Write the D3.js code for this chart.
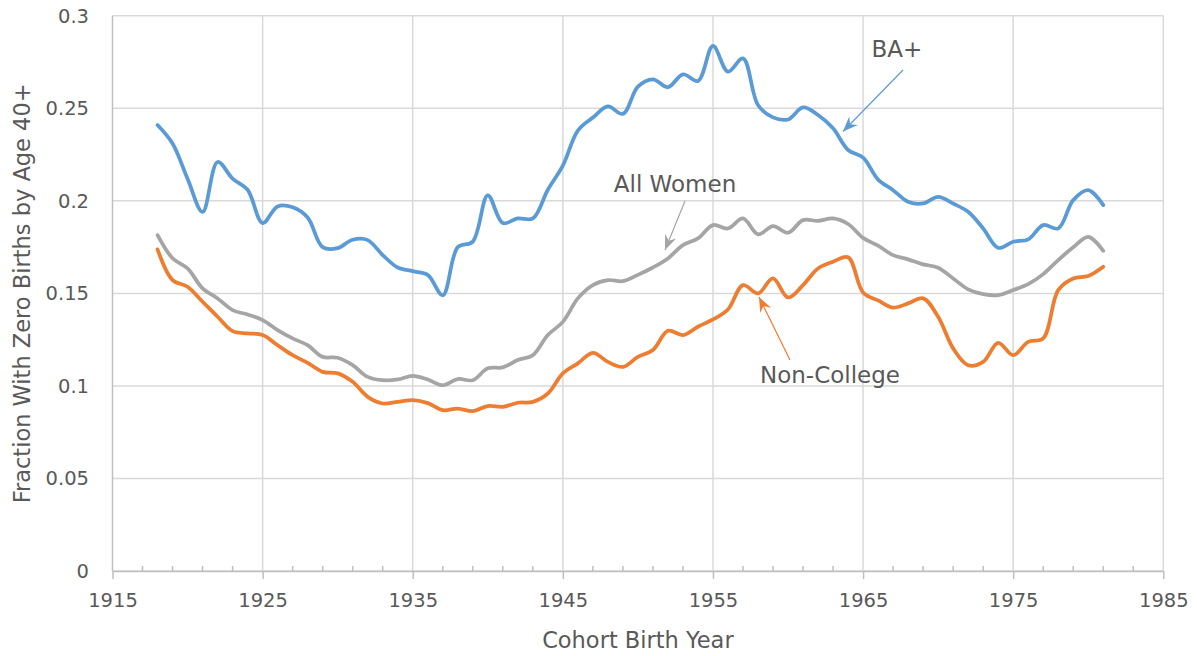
<!DOCTYPE html>
<html>
<head>
<meta charset="utf-8">
<script src="https://cdn.jsdelivr.net/npm/d3@7"></script>
<style>
  body { margin: 0; background: #fff; }
  text { font-family: "DejaVu Sans", sans-serif; fill: #595959; }
</style>
</head>
<body>
<script>

// cohort birth years
var years = [];
for (var yr = 1918; yr <= 1981; yr++) { years.push(yr); }

var baPlus = [
  0.241, 0.231, 0.212, 0.194, 0.221, 0.212, 0.206, 0.188, 0.197, 0.1965,
  0.191, 0.175, 0.1745, 0.179, 0.1788, 0.1707, 0.164, 0.162, 0.160, 0.149,
  0.175, 0.178, 0.203, 0.188, 0.1905, 0.1905, 0.206, 0.219, 0.238, 0.245,
  0.251, 0.247, 0.2617, 0.2657, 0.2614, 0.2684, 0.2648, 0.2837, 0.2698, 0.277,
  0.2518, 0.2451, 0.244, 0.2505, 0.2464, 0.2392, 0.2275, 0.2234, 0.2115, 0.2058,
  0.1995, 0.1986, 0.2022, 0.1986, 0.1941, 0.1851, 0.1746, 0.1779, 0.1792, 0.1869,
  0.1851, 0.2004, 0.2058, 0.1977
];

var allWomen = [
  0.1815, 0.169, 0.1635, 0.1527, 0.1473, 0.141, 0.1386, 0.1356, 0.1302, 0.1257,
  0.122, 0.1157, 0.1152, 0.1112, 0.1049, 0.1031, 0.1035, 0.1055, 0.1035, 0.1004,
  0.1037, 0.1031, 0.1095, 0.11, 0.114, 0.1166, 0.1275, 0.1346, 0.1473, 0.1545,
  0.1572, 0.1566, 0.160, 0.164, 0.1689, 0.1761, 0.1797, 0.1869, 0.1851, 0.1905,
  0.1819, 0.1864, 0.1828, 0.1896, 0.1892, 0.1905, 0.1875, 0.1800, 0.1758, 0.1707,
  0.1684, 0.1657, 0.1639, 0.1581, 0.1522, 0.1496, 0.1491, 0.1518, 0.155, 0.1604,
  0.168, 0.1749, 0.1806, 0.173
];

var nonCollege = [
  0.1738, 0.1572, 0.1536, 0.1455, 0.1374, 0.1296, 0.1284, 0.1275, 0.122, 0.1166,
  0.1125, 0.1076, 0.1068, 0.1022, 0.0941, 0.0905, 0.0914, 0.0923, 0.0907, 0.0869,
  0.0878, 0.0864, 0.0891, 0.0887, 0.0909, 0.0914, 0.0959, 0.1068, 0.1122, 0.1179,
  0.113, 0.1103, 0.1157, 0.1194, 0.1298, 0.1275, 0.132, 0.1359, 0.1413, 0.1545,
  0.150, 0.1581, 0.1478, 0.1545, 0.1635, 0.1671, 0.1695, 0.1505, 0.1462, 0.1423,
  0.1446, 0.1473, 0.1374, 0.1203, 0.1112, 0.113, 0.1233, 0.1166, 0.1238, 0.1257,
  0.1518, 0.1581, 0.1594, 0.1644
];

var xTicks = [1915, 1925, 1935, 1945, 1955, 1965, 1975, 1985];
var xMinorTicks = [];
for (var m = 1917; m < 1985; m += 2) { if ((m - 1915) % 10 != 0) xMinorTicks.push(m); }
var yTicks = [0, 0.05, 0.1, 0.15, 0.2, 0.25, 0.3];

var width = 1197, height = 656;

var svg = d3.select('body')
  .append('svg')
  .attr('width', width)
  .attr('height', height);

var x = d3.scaleLinear().domain([1915, 1985]).range([112.5, 1163.3]);
var y = d3.scaleLinear().domain([0, 0.3]).range([571, 15.8]);

//gridlines
svg.append('g')
  .selectAll('line')
  .data(yTicks)
  .enter()
  .append('line')
  .attr('x1', x(1915)).attr('x2', x(1985))
  .attr('y1', function(d){ return y(d); })
  .attr('y2', function(d){ return y(d); })
  .style('stroke', '#d9d9d9')
  .style('stroke-width', 1.5);

svg.append('g')
  .selectAll('line')
  .data(xTicks.slice(1))
  .enter()
  .append('line')
  .attr('x1', function(d){ return x(d); })
  .attr('x2', function(d){ return x(d); })
  .attr('y1', y(0.3)).attr('y2', y(0))
  .style('stroke', '#d9d9d9')
  .style('stroke-width', 1.5);

// y axis line
svg.append('line')
  .attr('x1', x(1915)).attr('x2', x(1915))
  .attr('y1', y(0.3)).attr('y2', y(0))
  .style('stroke', '#bfbfbf')
  .style('stroke-width', 1.5);

// x axis with major ticks
var xAxis = svg.append('g')
  .attr('transform', 'translate(0,' + y(0) + ')')
  .call(d3.axisBottom(x).tickValues(xTicks).tickSize(8).tickSizeOuter(0).tickPadding(14)
    .tickFormat(d3.format('d')));
xAxis.select('.domain').style('stroke', '#bfbfbf').style('stroke-width', 1.5);
xAxis.selectAll('.tick line').style('stroke', '#bfbfbf').style('stroke-width', 1.5);
xAxis.selectAll('.tick text')
  .style('font-size', '19.5px')
  .style('font-family', '"DejaVu Sans", sans-serif')
  .style('fill', '#595959');

// minor ticks (inside)
svg.append('g')
  .selectAll('line')
  .data(xMinorTicks)
  .enter()
  .append('line')
  .attr('x1', function(d){ return x(d); })
  .attr('x2', function(d){ return x(d); })
  .attr('y1', y(0)).attr('y2', y(0) - 5)
  .style('stroke', '#bfbfbf')
  .style('stroke-width', 1.5);

// y tick labels
svg.append('g')
  .selectAll('text')
  .data(yTicks)
  .enter()
  .append('text')
  .attr('x', 89)
  .attr('y', function(d){ return y(d); })
  .attr('dy', '0.36em')
  .attr('text-anchor', 'end')
  .style('font-size', '19.5px')
  .text(function(d){ return d3.format('~g')(d); });

// axis titles
svg.append('text')
  .attr('x', (x(1915) + x(1985)) / 2)
  .attr('y', 648)
  .attr('text-anchor', 'middle')
  .style('font-size', '22.5px')
  .text('Cohort Birth Year');

svg.append('text')
  .attr('transform', 'translate(30,' + ((y(0) + y(0.3)) / 2) + ') rotate(-90)')
  .attr('text-anchor', 'middle')
  .style('font-size', '22.5px')
  .text('Fraction With Zero Births by Age 40+');

//series lines
var series = [
  { name: 'All Women', values: allWomen, color: '#a5a5a5' },
  { name: 'Non-College', values: nonCollege, color: '#ed7d31' },
  { name: 'BA+', values: baPlus, color: '#5b9bd5' }
];

var line = d3.line()
  .x(function(d, i){ return x(years[i]); })
  .y(function(d){ return y(d); })
  .curve(d3.curveCatmullRom.alpha(0.5));

svg.append('g')
  .selectAll('path')
  .data(series)
  .enter()
  .append('path')
  .attr('d', function(d){ return line(d.values); })
  .style('fill', 'none')
  .style('stroke', function(d){ return d.color; })
  .style('stroke-width', 3.75)
  .style('stroke-linejoin', 'round')
  .style('stroke-linecap', 'round');

// arrow markers
var defs = svg.append('defs');
series.forEach(function(s, i){
  defs.append('marker')
    .attr('id', 'arrow' + i)
    .attr('markerUnits', 'userSpaceOnUse')
    .attr('viewBox', '-16 -8 18 16')
    .attr('refX', 0).attr('refY', 0)
    .attr('markerWidth', 18).attr('markerHeight', 16)
    .attr('orient', 'auto')
    .append('path')
    .attr('d', 'M0,0 L-15,-6 L-10,0 L-15,6 Z')
    .style('fill', s.color);
});

// annotations
var notes = [
  { label: 'All Women', tx: 675, ty: 191.7, x1: 685, y1: 201, x2: 665, y2: 250, idx: 0 },
  { label: 'Non-College', tx: 830, ty: 383.3, x1: 790, y1: 360, x2: 759, y2: 297, idx: 1 },
  { label: 'BA+', tx: 897, ty: 56.7, x1: 903, y1: 70, x2: 843, y2: 131.5, idx: 2 }
];

svg.append('g')
  .selectAll('line')
  .data(notes)
  .enter()
  .append('line')
  .attr('x1', function(d){ return d.x1; })
  .attr('y1', function(d){ return d.y1; })
  .attr('x2', function(d){ return d.x2; })
  .attr('y2', function(d){ return d.y2; })
  .style('stroke', function(d){ return series[d.idx].color; })
  .style('stroke-width', 1.2)
  .attr('marker-end', function(d){ return 'url(#arrow' + d.idx + ')'; });

svg.append('g')
  .selectAll('text')
  .data(notes)
  .enter()
  .append('text')
  .attr('x', function(d){ return d.tx; })
  .attr('y', function(d){ return d.ty; })
  .attr('text-anchor', 'middle')
  .style('font-size', '23px')
  .text(function(d){ return d.label; });

</script>
</body>
</html>
